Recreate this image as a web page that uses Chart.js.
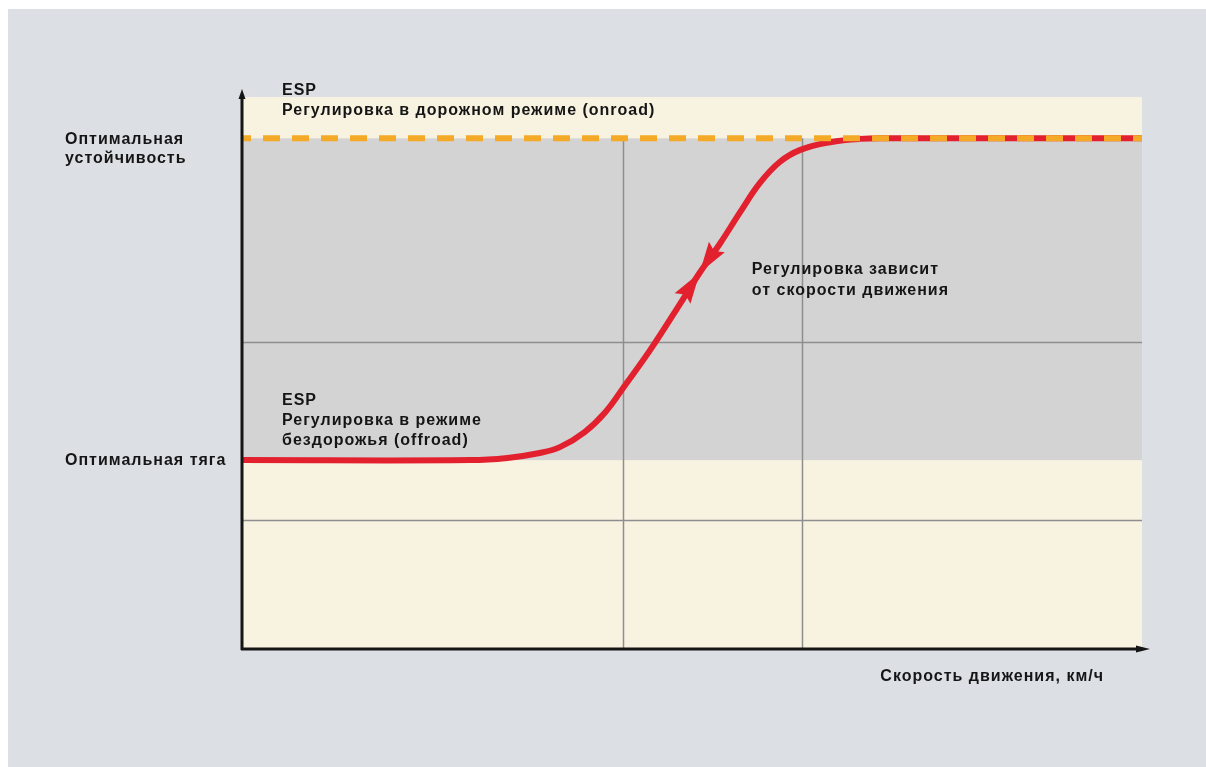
<!DOCTYPE html>
<html lang="ru">
<head>
<meta charset="utf-8">
<title>ESP: тяга и устойчивость</title>
<script src="https://cdn.jsdelivr.net/npm/chart.js@4.4.1/dist/chart.umd.min.js"></script>
<style>
    html, body { margin: 0; padding: 0; background: #ffffff; }
    #chart { display: block; }
</style>
</head>
<body>
<canvas id="chart" width="1206" height="767"></canvas>
<script>
// Speed (x) vs stability/traction level (y), both on a 0..100 scale
const speed     = [0, 25.3, 29.4, 33.0, 35.3, 38.0, 40.3, 42.5, 45.3, 48.9, 50.8, 53.1, 55.3, 57.5, 59.7, 62.0, 65.3, 68.6, 72.0, 100];
const stability = [34.1, 34.1, 34.5, 35.4, 36.5, 39.2, 42.8, 47.7, 54.1, 63.2, 68.1, 73.5, 79.1, 84.4, 88.2, 90.4, 91.8, 92.4, 92.5, 92.5];

// Reference levels
const TRACTION = 34.1;      // "Оптимальная тяга"
const STABILITY = 92.5;     // "Оптимальная устойчивость"
const onroadLine = [[0, STABILITY], [100, STABILITY]];

// Grid positions
const gridX = [42.3, 62.2];
const gridY = [23.2, 55.5];

// Point where the two arrowheads meet
const ARROW_INDEX = 10;

const labels = {
    stability: ['Оптимальная', 'устойчивость'],
    traction: ['Оптимальная тяга'],
    onroad: ['ESP', 'Регулировка в дорожном режиме (onroad)'],
    offroad: ['ESP', 'Регулировка в режиме', 'бездорожья (offroad)'],
    middle: ['Регулировка зависит', 'от скорости движения'],
    xTitle: 'Скорость движения, км/ч'
};

const FONT = 'bold 16px "Liberation Sans", Arial, sans-serif';
const INK = '#151515';
const RED = '#e3202e';
const ORANGE = '#f4aa26';

function drawLines(ctx, lines, x, y, lh) {
    lines.forEach((t, i) => ctx.fillText(t, x, y + i * lh));
}

const backdrop = {
    id: 'backdrop',
    beforeDraw(chart) {
        const ctx = chart.ctx;
        ctx.save();
        ctx.fillStyle = '#ffffff';
        ctx.fillRect(0, 0, chart.width, chart.height);
        ctx.fillStyle = '#dcdfe3';
        ctx.fillRect(8, 9, chart.width - 8, chart.height - 9);
        ctx.restore();
    },
    beforeDatasetsDraw(chart) {
        const ctx = chart.ctx;
        const a = chart.chartArea;
        const xs = chart.scales.x, ys = chart.scales.y;
        const yTr = ys.getPixelForValue(TRACTION);
        const ySt = ys.getPixelForValue(STABILITY);
        ctx.save();
        // cream plot area + grey band between the two optimal levels
        ctx.fillStyle = '#f8f2e1';
        ctx.fillRect(a.left, a.top, a.right - a.left, a.bottom - a.top);
        ctx.fillStyle = '#d3d3d4';
        ctx.fillRect(a.left, ySt, a.right - a.left, yTr - ySt);

        // grid lines
        ctx.strokeStyle = '#8e8e8e';
        ctx.lineWidth = 1.5;
        gridX.forEach(v => {
            const px = Math.round(xs.getPixelForValue(v)) + 0.5;
            ctx.beginPath();
            ctx.moveTo(px, ySt);
            ctx.lineTo(px, a.bottom);
            ctx.stroke();
        });
        gridY.forEach(v => {
            const py = Math.round(ys.getPixelForValue(v)) + 0.5;
            ctx.beginPath();
            ctx.moveTo(a.left, py);
            ctx.lineTo(a.right, py);
            ctx.stroke();
        });
        ctx.restore();
    },
    afterDatasetsDraw(chart) {
        const ctx = chart.ctx;
        const a = chart.chartArea;
        const xs = chart.scales.x, ys = chart.scales.y;
        ctx.save();

        // arrowheads meeting on the curve
        const px = i => xs.getPixelForValue(speed[i]);
        const py = i => ys.getPixelForValue(stability[i]);
        const tx = px(ARROW_INDEX), ty = py(ARROW_INDEX);
        let dx = px(ARROW_INDEX + 1) - px(ARROW_INDEX - 1);
        let dy = py(ARROW_INDEX + 1) - py(ARROW_INDEX - 1);
        const len = Math.hypot(dx, dy);
        dx /= len; dy /= len;
        ctx.fillStyle = RED;
        [1, -1].forEach(dir => {
            const bx = tx + dir * dx * 31, by = ty + dir * dy * 31;
            const nx = -dy * 9.5, ny = dx * 9.5;
            ctx.beginPath();
            ctx.moveTo(tx, ty);
            ctx.lineTo(bx + nx, by + ny);
            ctx.lineTo(tx + dir * dx * 26, ty + dir * dy * 26);
            ctx.lineTo(bx - nx, by - ny);
            ctx.closePath();
            ctx.fill();
        });

        // axes with arrows
        const ox = a.left - 1, oy = a.bottom + 1;
        ctx.strokeStyle = INK;
        ctx.fillStyle = INK;
        ctx.lineWidth = 3;
        ctx.beginPath();
        ctx.moveTo(ox, oy + 1);
        ctx.lineTo(ox, a.top - 2);
        ctx.moveTo(ox - 1, oy);
        ctx.lineTo(a.right + 1, oy);
        ctx.stroke();
        ctx.beginPath();
        ctx.moveTo(ox, a.top - 8);
        ctx.lineTo(ox - 3.5, a.top + 2);
        ctx.lineTo(ox + 3.5, a.top + 2);
        ctx.closePath();
        ctx.fill();
        ctx.beginPath();
        ctx.moveTo(a.right + 8, oy);
        ctx.lineTo(a.right - 6, oy - 3.5);
        ctx.lineTo(a.right - 6, oy + 3.5);
        ctx.closePath();
        ctx.fill();

        // texts
        ctx.font = FONT;
        ctx.letterSpacing = '1px';
        ctx.fillStyle = INK;
        ctx.textBaseline = 'alphabetic';
        ctx.textAlign = 'left';
        const yTr = ys.getPixelForValue(TRACTION);
        const ySt = ys.getPixelForValue(STABILITY);
        drawLines(ctx, labels.stability, 65, ySt + 6, 19);
        drawLines(ctx, labels.traction, 65, yTr + 5, 19);
        drawLines(ctx, labels.onroad, a.left + 39, a.top - 2, 20);
        drawLines(ctx, labels.offroad, a.left + 39, yTr - 55, 20);
        drawLines(ctx, labels.middle, xs.getPixelForValue(56.6), ys.getPixelForValue(68.1) + 1, 21);
        ctx.textAlign = 'right';
        ctx.fillText(labels.xTitle, 1104, oy + 32);
        ctx.restore();
    }
};

new Chart(document.getElementById('chart'), {
    type: 'line',
    data: {
        datasets: [
            {
                label: 'onroad',
                data: onroadLine.map(p => ({ x: p[0], y: p[1] })),
                borderColor: ORANGE,
                borderWidth: 6,
                borderDash: [17, 12],
                borderDashOffset: 9,
                borderCapStyle: 'butt',
                pointRadius: 0,
                order: 0
            },
            {
                label: 'ESP',
                data: speed.map((s, i) => ({ x: s, y: stability[i] })),
                borderColor: RED,
                borderWidth: 6,
                tension: 0.4,
                borderCapStyle: 'butt',
                pointRadius: 0,
                order: 1
            }
        ]
    },
    options: {
        responsive: false,
        animation: false,
        layout: { padding: { left: 243, right: 64, top: 97, bottom: 119 } },
        plugins: { legend: { display: false }, tooltip: { enabled: false } },
        scales: {
            x: { type: 'linear', min: 0, max: 100, display: false },
            y: { type: 'linear', min: 0, max: 100, display: false }
        }
    },
    plugins: [backdrop]
});
</script>
</body>
</html>
